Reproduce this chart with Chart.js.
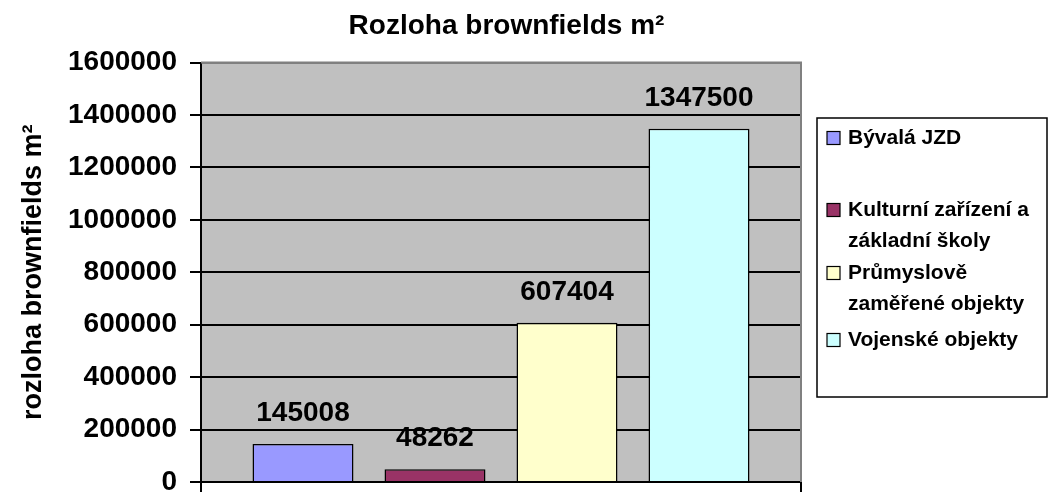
<!DOCTYPE html>
<html>
<head>
<meta charset="utf-8">
<script src="https://cdn.jsdelivr.net/npm/chart.js@4"></script>
<style>
    body { margin: 0; background: #ffffff; }
    #wrap { position: relative; width: 1049px; height: 492px; }
</style>
</head>
<body>
<div id="wrap"><canvas id="chart" width="1049" height="492"></canvas></div>
<script>
// Rozloha brownfields - bar chart

const categories = [""];
const seriesNames = ["Bývalá JZD", "Kulturní zařízení a základní školy", "Průmyslově zaměřené objekty", "Vojenské objekty"];
const legendLines = [["Bývalá JZD"], ["Kulturní zařízení a", "základní školy"], ["Průmyslově", "zaměřené objekty"], ["Vojenské objekty"]];
const seriesValues = [145008, 48262, 607404, 1347500];
const seriesColors = ["#9999FF", "#993366", "#FFFFCC", "#CCFFFF"];
const yTicks = [0, 200000, 400000, 600000, 800000, 1000000, 1200000, 1400000, 1600000];

const FONT = "'Liberation Sans', Arial, sans-serif";

// gray plot background + gray top/right frame
const plotBackground = {
    id: "plotBackground",
    beforeDraw(chart) {
        const { ctx, chartArea: a } = chart;
        ctx.save();
        ctx.fillStyle = "#C0C0C0";
        ctx.fillRect(a.left, a.top, a.right - a.left, a.bottom - a.top);
        ctx.restore();
    },
    afterDatasetsDraw(chart) {
        const { ctx, chartArea: a } = chart;
        ctx.save();
        ctx.strokeStyle = "#808080";
        ctx.lineWidth = 2;
        ctx.beginPath();
        ctx.moveTo(a.left, a.top);
        ctx.lineTo(a.right, a.top);
        ctx.lineTo(a.right, a.bottom);
        ctx.stroke();
        ctx.restore();
    }
};

// value labels above the bars
const valueLabels = {
    id: "valueLabels",
    afterDatasetsDraw(chart) {
        const ctx = chart.ctx;
        ctx.save();
        ctx.font = "bold 28px " + FONT;
        ctx.fillStyle = "#000";
        ctx.textAlign = "center";
        ctx.textBaseline = "middle";
        chart.data.datasets.forEach((ds, i) => {
            chart.getDatasetMeta(i).data.forEach((bar, j) => {
                ctx.fillText(String(ds.data[j]), bar.x, bar.y - 31);
            });
        });
        ctx.restore();
    }
};

// boxed legend on the right, with wrapped lines like the original
const boxLegend = {
    id: "boxLegend",
    afterDraw(chart) {
        const ctx = chart.ctx;
        ctx.save();
        ctx.strokeStyle = "#000";
        ctx.lineWidth = 1.5;
        ctx.strokeRect(817, 118, 230, 279);
        ctx.font = "bold 21px " + FONT;
        ctx.textBaseline = "middle";
        const starts = [138, 210, 273, 340];
        chart.data.datasets.forEach((ds, i) => {
            const y = starts[i];
            ctx.fillStyle = ds.backgroundColor;
            ctx.fillRect(827, y - 6.5, 13, 13);
            ctx.lineWidth = 1.2;
            ctx.strokeRect(827, y - 6.5, 13, 13);
            ctx.fillStyle = "#000";
            legendLines[i].forEach((line, k) => {
                ctx.fillText(line, 848, y + k * 31);
            });
        });
        ctx.restore();
    }
};

new Chart(document.getElementById("chart"), {
    type: "bar",
    data: {
        labels: categories,
        datasets: seriesNames.map((name, i) => ({
            label: name,
            data: [seriesValues[i]],
            backgroundColor: seriesColors[i],
            borderColor: "#000",
            borderWidth: 1.5,
            categoryPercentage: 0.88,
            barPercentage: 0.765
        }))
    },
    options: {
        responsive: false,
        animation: false,
        layout: { padding: { left: 0, right: 36, top: 0, bottom: 0 } },
        plugins: {
            legend: { display: false },
            tooltip: { enabled: false },
            title: {
                display: true,
                text: "Rozloha brownfields m²",
                color: "#000",
                font: { family: FONT, size: 28, weight: "bold", lineHeight: 1.2 },
                padding: { top: 9, bottom: 20 }
            }
        },
        scales: {
            x: {
                offset: true,
                ticks: { display: false },
                grid: {
                    offset: true,
                    drawOnChartArea: false,
                    color: "#000",
                    lineWidth: 2,
                    tickLength: 10
                },
                border: { color: "#000", width: 2 }
            },
            y: {
                min: 0,
                max: 1600000,
                afterFit(scale) {
                    scale.width = 201;
                    // let the "0" label hang below the plot like in the original
                    scale.paddingBottom = 0;
                    scale.paddingTop = 0;
                },
                afterBuildTicks(scale) { scale.ticks = yTicks.map(v => ({ value: v })); },
                ticks: {
                    color: "#000",
                    padding: 13,
                    font: { family: FONT, size: 28, weight: "bold" },
                    callback: v => String(v)
                },
                grid: {
                    color: ctx => (ctx.tick && ctx.tick.value === 1600000 ? "#808080" : "#000"),
                    tickColor: "#000",
                    lineWidth: 2,
                    tickLength: 11
                },
                border: { color: "#000", width: 2 },
                title: {
                    display: true,
                    text: "rozloha brownfields m²",
                    color: "#000",
                    font: { family: FONT, size: 27, weight: "bold", lineHeight: 1.2 },
                    padding: { top: 17, bottom: 0 }
                }
            },
            // empty spacer on the right, leaves room for the legend box
            spacer: {
                type: "linear",
                position: "right",
                display: true,
                afterFit(scale) { scale.width = 212; },
                ticks: { display: false },
                grid: { display: false },
                border: { display: false }
            }
        }
    },
    plugins: [plotBackground, valueLabels, boxLegend]
});
</script>
</body>
</html>
